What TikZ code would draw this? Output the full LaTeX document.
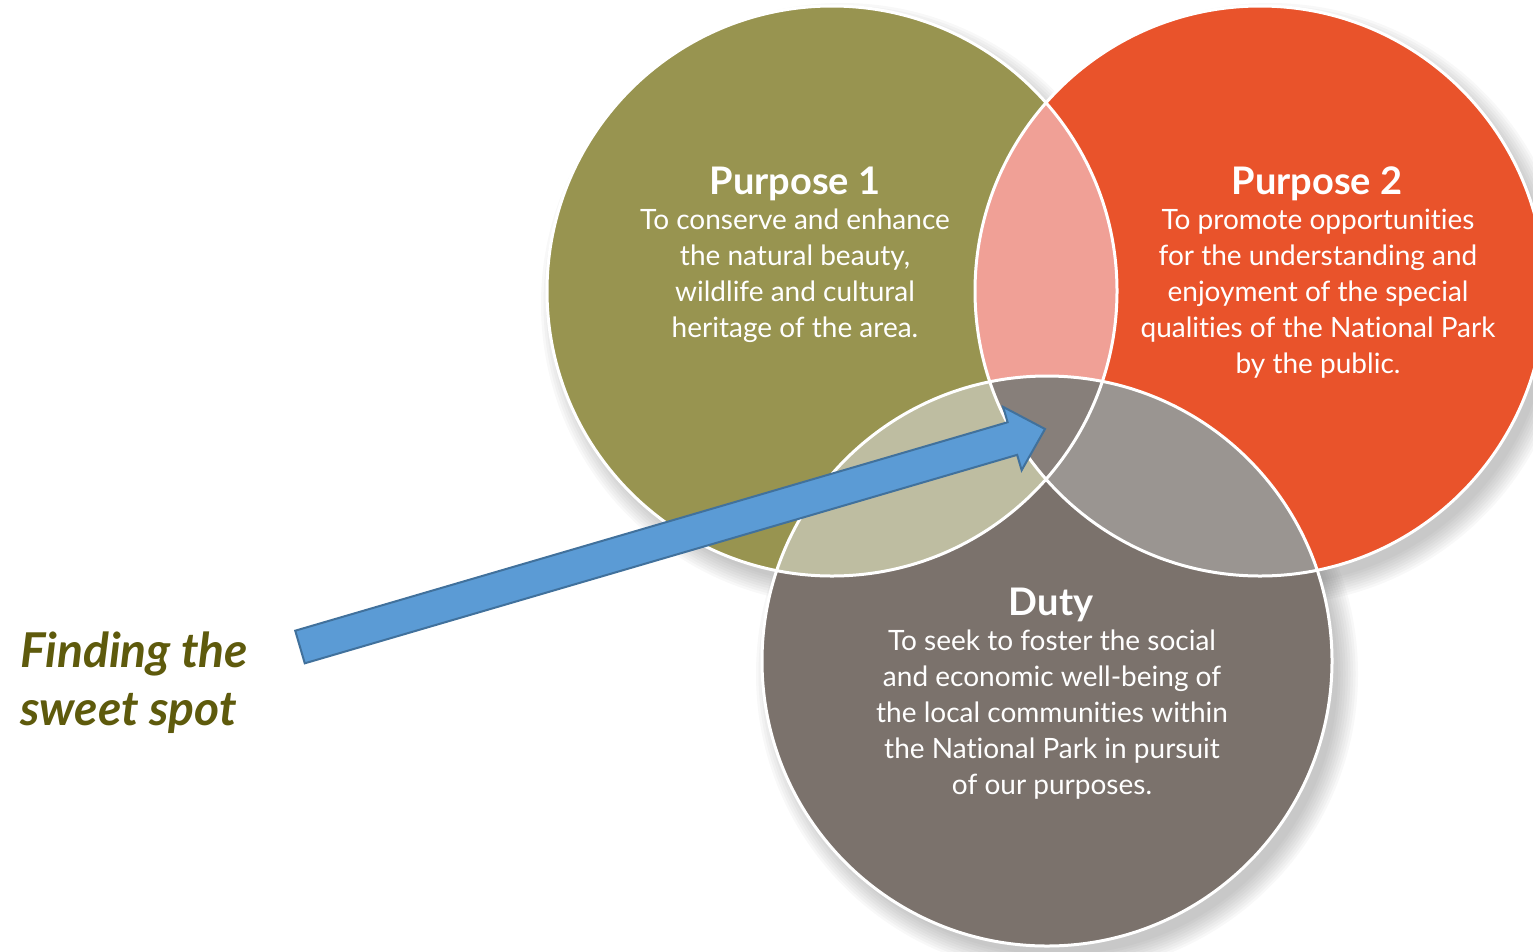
\documentclass[tikz,border=0pt]{standalone}
\usepackage{fontspec}
\setmainfont{Lato}[Ligatures=NoCommon]
\usepackage{tikz}
\usetikzlibrary{calc,positioning}
\definecolor{purposeolive}{HTML}{989450}
\definecolor{purposeorange}{HTML}{E9532B}
\definecolor{dutytaupe}{HTML}{7B726C}
\definecolor{overlappink}{HTML}{F0A096}
\definecolor{overlapkhaki}{HTML}{BEBDA1}
\definecolor{overlapgrey}{HTML}{9A9591}
\definecolor{overlapcore}{HTML}{877F7A}
\definecolor{arrowblue}{HTML}{5B9BD5}
\definecolor{arrowedge}{HTML}{41719C}
\definecolor{sweetolive}{HTML}{5E5A0C}

\begin{document}
\begin{tikzpicture}[x=1pt, y=-1pt,
    bodytext/.style={text=white, inner sep=0pt, font=\fontsize{28}{30}\selectfont},
    circtitle/.style={text=white, inner sep=0pt, font=\bfseries\fontsize{38}{40}\selectfont},
    sweettext/.style={text=sweetolive, inner sep=0pt, font=\bfseries\itshape\fontsize{48}{50}\selectfont},
    sweetarrow/.style={fill=arrowblue, draw=arrowedge, line width=2pt, line join=miter}]
    \useasboundingbox (0,0) rectangle (1533,951);

    % Circle centres
    \def\rad{285}
    \coordinate (p1c) at (832,291);
    \coordinate (p2c) at (1260,291);
    \coordinate (dc) at (1047,661);

    % Soft shadows
    \foreach \c in {p1c,p2c,dc} {
        \foreach \s in {0,...,8}
            \fill[black!70, opacity=0.04] ([shift={(10,13)}]\c) circle (\rad+16-2.5*\s);
    }

    % Circles
    \fill[purposeolive] (p1c) circle (\rad);
    \fill[purposeorange] (p2c) circle (\rad);
    \fill[dutytaupe] (dc) circle (\rad);

    % Overlaps
    \begin{scope}
        \clip (p1c) circle (\rad);
        \fill[overlappink] (p2c) circle (\rad);
        \fill[overlapkhaki] (dc) circle (\rad);
    \end{scope}
    \begin{scope}
        \clip (p2c) circle (\rad);
        \fill[overlapgrey] (dc) circle (\rad);
        \clip (p1c) circle (\rad);
        \fill[overlapcore] (dc) circle (\rad);
    \end{scope}

    % White rims
    \foreach \c in {p1c,p2c,dc}
        \draw[white, line width=3pt] (\c) circle (\rad);

    % Purpose 1
    \node[circtitle, anchor=base] (p1title) at (795,194) {Purpose 1};
    \foreach \txt [count=\i from 0] in {To conserve and enhance, the natural beauty{,}, wildlife and cultural, heritage of the area.}
        \node[bodytext, anchor=base] (p1line\i) at (795,229+36*\i) {\txt};

    % Purpose 2
    \node[circtitle, anchor=base] (p2title) at (1317,194) {Purpose 2};
    \foreach \txt [count=\i from 0] in {To promote opportunities, for the understanding and, enjoyment of the special, qualities of the National Park, by the public.}
        \node[bodytext, anchor=base] (p2line\i) at (1318,229+36*\i) {\txt};

    % Duty
    \node[circtitle, anchor=base] (dtitle) at (1051,615) {Duty};
    \foreach \txt [count=\i from 0] in {To seek to foster the social, and economic well-being of, the local communities within, the National Park in pursuit, of our purposes.}
        \node[bodytext, anchor=base] (dline\i) at (1052,650+36*\i) {\txt};

    % Sweet spot label
    \node[sweettext, anchor=base west] (sweet1) at (20,667) {Finding the};
    \node[sweettext, anchor=base west] (sweet2) at (20,725) {sweet spot};

    % Arrow into the centre
    \coordinate (tail) at (300,647);
    \coordinate (spot) at (1045,429);
    \coordinate (headbase) at ($(spot)!34pt!(tail)$);
    \filldraw[sweetarrow]
        ($(tail)!17pt!90:(spot)$) -- ($(headbase)!17pt!-90:(tail)$)
        -- ($(headbase)!33pt!-90:(tail)$) -- (spot)
        -- ($(headbase)!33pt!90:(tail)$) -- ($(headbase)!17pt!90:(tail)$)
        -- ($(tail)!17pt!-90:(spot)$) -- cycle;
\end{tikzpicture}
\end{document}
